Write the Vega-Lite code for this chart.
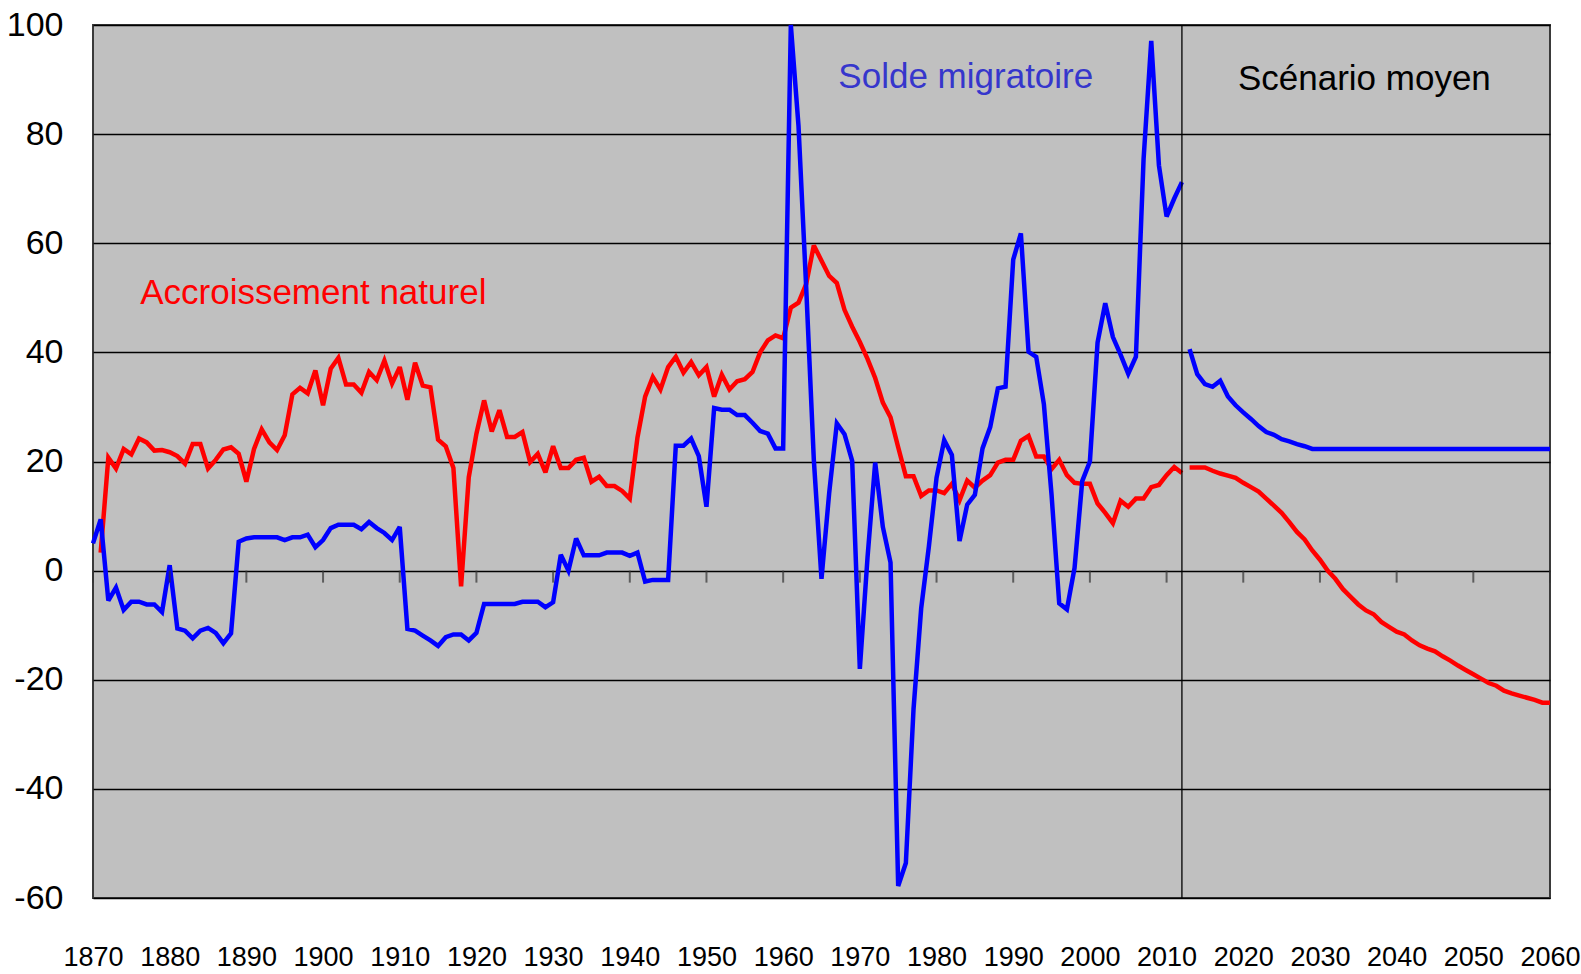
{
  "$schema": "https://vega.github.io/schema/vega-lite/v6.json",
  "width": 1457,
  "height": 873,
  "autosize": "none",
  "padding": {"left": 93, "top": 25, "right": 31, "bottom": 76},
  "background": "white",
  "config": {
    "view": {"fill": "#C0C0C0", "stroke": "#3a3a3a", "strokeWidth": 2},
    "axis": {"labelFont": "Liberation Sans, Arial, sans-serif", "labelColor": "#000000"}
  },
  "datasets": {
    "decennies": [
      {"a": 1870}, {"a": 1880}, {"a": 1890}, {"a": 1900}, {"a": 1910}, {"a": 1920}, {"a": 1930}, {"a": 1940}, {"a": 1950}, {"a": 1960},
      {"a": 1970}, {"a": 1980}, {"a": 1990}, {"a": 2000}, {"a": 2010}, {"a": 2020}, {"a": 2030}, {"a": 2040}, {"a": 2050}, {"a": 2060}
    ],
    "annotations": [
      {"t": "Accroissement naturel", "a": 1876.15, "v": 48.9, "c": "A"},
      {"t": "Solde migratoire", "a": 1967.2, "v": 88.5, "c": "M"},
      {"t": "Scénario moyen", "a": 2019.3, "v": 88.1, "c": "S"}
    ],
    "series": [
      {"s":"A","p":"h","a":1871,"v":3.3},{"s":"A","p":"h","a":1872,"v":20.7},{"s":"A","p":"h","a":1873,"v":18.7},{"s":"A","p":"h","a":1874,"v":22.3},{"s":"A","p":"h","a":1875,"v":21.3},{"s":"A","p":"h","a":1876,"v":24.2},{"s":"A","p":"h","a":1877,"v":23.5},{"s":"A","p":"h","a":1878,"v":22.0},{"s":"A","p":"h","a":1879,"v":22.1},{"s":"A","p":"h","a":1880,"v":21.7},
      {"s":"A","p":"h","a":1881,"v":21.0},{"s":"A","p":"h","a":1882,"v":19.6},{"s":"A","p":"h","a":1883,"v":23.2},{"s":"A","p":"h","a":1884,"v":23.2},{"s":"A","p":"h","a":1885,"v":18.7},{"s":"A","p":"h","a":1886,"v":20.3},{"s":"A","p":"h","a":1887,"v":22.2},{"s":"A","p":"h","a":1888,"v":22.6},{"s":"A","p":"h","a":1889,"v":21.4},{"s":"A","p":"h","a":1890,"v":16.3},
      {"s":"A","p":"h","a":1891,"v":22.3},{"s":"A","p":"h","a":1892,"v":25.9},{"s":"A","p":"h","a":1893,"v":23.5},{"s":"A","p":"h","a":1894,"v":22.1},{"s":"A","p":"h","a":1895,"v":24.8},{"s":"A","p":"h","a":1896,"v":32.3},{"s":"A","p":"h","a":1897,"v":33.5},{"s":"A","p":"h","a":1898,"v":32.5},{"s":"A","p":"h","a":1899,"v":36.7},{"s":"A","p":"h","a":1900,"v":30.3},
      {"s":"A","p":"h","a":1901,"v":37.0},{"s":"A","p":"h","a":1902,"v":39.0},{"s":"A","p":"h","a":1903,"v":34.1},{"s":"A","p":"h","a":1904,"v":34.1},{"s":"A","p":"h","a":1905,"v":32.6},{"s":"A","p":"h","a":1906,"v":36.4},{"s":"A","p":"h","a":1907,"v":34.9},{"s":"A","p":"h","a":1908,"v":38.5},{"s":"A","p":"h","a":1909,"v":34.3},{"s":"A","p":"h","a":1910,"v":37.3},
      {"s":"A","p":"h","a":1911,"v":31.3},{"s":"A","p":"h","a":1912,"v":38.1},{"s":"A","p":"h","a":1913,"v":33.9},{"s":"A","p":"h","a":1914,"v":33.6},{"s":"A","p":"h","a":1915,"v":24.0},{"s":"A","p":"h","a":1916,"v":22.8},{"s":"A","p":"h","a":1917,"v":18.8},{"s":"A","p":"h","a":1918,"v":-2.9},{"s":"A","p":"h","a":1919,"v":17.1},{"s":"A","p":"h","a":1920,"v":25.1},
      {"s":"A","p":"h","a":1921,"v":31.2},{"s":"A","p":"h","a":1922,"v":25.5},{"s":"A","p":"h","a":1923,"v":29.4},{"s":"A","p":"h","a":1924,"v":24.5},{"s":"A","p":"h","a":1925,"v":24.5},{"s":"A","p":"h","a":1926,"v":25.4},{"s":"A","p":"h","a":1927,"v":19.9},{"s":"A","p":"h","a":1928,"v":21.4},{"s":"A","p":"h","a":1929,"v":18.0},{"s":"A","p":"h","a":1930,"v":22.8},
      {"s":"A","p":"h","a":1931,"v":18.8},{"s":"A","p":"h","a":1932,"v":18.8},{"s":"A","p":"h","a":1933,"v":20.3},{"s":"A","p":"h","a":1934,"v":20.7},{"s":"A","p":"h","a":1935,"v":16.3},{"s":"A","p":"h","a":1936,"v":17.2},{"s":"A","p":"h","a":1937,"v":15.5},{"s":"A","p":"h","a":1938,"v":15.5},{"s":"A","p":"h","a":1939,"v":14.6},{"s":"A","p":"h","a":1940,"v":13.2},
      {"s":"A","p":"h","a":1941,"v":24.4},{"s":"A","p":"h","a":1942,"v":31.9},{"s":"A","p":"h","a":1943,"v":35.5},{"s":"A","p":"h","a":1944,"v":33.2},{"s":"A","p":"h","a":1945,"v":37.3},{"s":"A","p":"h","a":1946,"v":39.2},{"s":"A","p":"h","a":1947,"v":36.3},{"s":"A","p":"h","a":1948,"v":38.2},{"s":"A","p":"h","a":1949,"v":35.8},{"s":"A","p":"h","a":1950,"v":37.3},
      {"s":"A","p":"h","a":1951,"v":31.9},{"s":"A","p":"h","a":1952,"v":35.9},{"s":"A","p":"h","a":1953,"v":33.2},{"s":"A","p":"h","a":1954,"v":34.7},{"s":"A","p":"h","a":1955,"v":35.1},{"s":"A","p":"h","a":1956,"v":36.4},{"s":"A","p":"h","a":1957,"v":40.0},{"s":"A","p":"h","a":1958,"v":42.2},{"s":"A","p":"h","a":1959,"v":43.1},{"s":"A","p":"h","a":1960,"v":42.6},
      {"s":"A","p":"h","a":1961,"v":48.2},{"s":"A","p":"h","a":1962,"v":49.1},{"s":"A","p":"h","a":1963,"v":52.5},{"s":"A","p":"h","a":1964,"v":59.6},{"s":"A","p":"h","a":1965,"v":56.8},{"s":"A","p":"h","a":1966,"v":54.0},{"s":"A","p":"h","a":1967,"v":52.7},{"s":"A","p":"h","a":1968,"v":47.8},{"s":"A","p":"h","a":1969,"v":44.7},{"s":"A","p":"h","a":1970,"v":41.9},
      {"s":"A","p":"h","a":1971,"v":38.8},{"s":"A","p":"h","a":1972,"v":35.3},{"s":"A","p":"h","a":1973,"v":30.8},{"s":"A","p":"h","a":1974,"v":28.1},{"s":"A","p":"h","a":1975,"v":22.6},{"s":"A","p":"h","a":1976,"v":17.3},{"s":"A","p":"h","a":1977,"v":17.3},{"s":"A","p":"h","a":1978,"v":13.7},{"s":"A","p":"h","a":1979,"v":14.7},{"s":"A","p":"h","a":1980,"v":14.7},
      {"s":"A","p":"h","a":1981,"v":14.2},{"s":"A","p":"h","a":1982,"v":15.9},{"s":"A","p":"h","a":1983,"v":12.9},{"s":"A","p":"h","a":1984,"v":16.5},{"s":"A","p":"h","a":1985,"v":15.2},{"s":"A","p":"h","a":1986,"v":16.5},{"s":"A","p":"h","a":1987,"v":17.5},{"s":"A","p":"h","a":1988,"v":19.8},{"s":"A","p":"h","a":1989,"v":20.3},{"s":"A","p":"h","a":1990,"v":20.3},
      {"s":"A","p":"h","a":1991,"v":23.8},{"s":"A","p":"h","a":1992,"v":24.7},{"s":"A","p":"h","a":1993,"v":20.9},{"s":"A","p":"h","a":1994,"v":20.9},{"s":"A","p":"h","a":1995,"v":18.6},{"s":"A","p":"h","a":1996,"v":20.3},{"s":"A","p":"h","a":1997,"v":17.5},{"s":"A","p":"h","a":1998,"v":16.1},{"s":"A","p":"h","a":1999,"v":15.9},{"s":"A","p":"h","a":2000,"v":15.9},
      {"s":"A","p":"h","a":2001,"v":12.3},{"s":"A","p":"h","a":2002,"v":10.6},{"s":"A","p":"h","a":2003,"v":8.7},{"s":"A","p":"h","a":2004,"v":12.8},{"s":"A","p":"h","a":2005,"v":11.7},{"s":"A","p":"h","a":2006,"v":13.2},{"s":"A","p":"h","a":2007,"v":13.2},{"s":"A","p":"h","a":2008,"v":15.3},{"s":"A","p":"h","a":2009,"v":15.7},{"s":"A","p":"h","a":2010,"v":17.5},
      {"s":"A","p":"h","a":2011,"v":19.0},{"s":"A","p":"h","a":2012,"v":17.9},
      {"s":"A","p":"p","a":2013,"v":18.9},{"s":"A","p":"p","a":2014,"v":18.9},{"s":"A","p":"p","a":2015,"v":18.9},{"s":"A","p":"p","a":2016,"v":18.3},{"s":"A","p":"p","a":2017,"v":17.8},{"s":"A","p":"p","a":2018,"v":17.4},{"s":"A","p":"p","a":2019,"v":17.0},{"s":"A","p":"p","a":2020,"v":16.1},
      {"s":"A","p":"p","a":2021,"v":15.3},{"s":"A","p":"p","a":2022,"v":14.5},{"s":"A","p":"p","a":2023,"v":13.2},{"s":"A","p":"p","a":2024,"v":11.9},{"s":"A","p":"p","a":2025,"v":10.6},{"s":"A","p":"p","a":2026,"v":8.9},{"s":"A","p":"p","a":2027,"v":7.1},{"s":"A","p":"p","a":2028,"v":5.7},{"s":"A","p":"p","a":2029,"v":3.7},{"s":"A","p":"p","a":2030,"v":2.0},
      {"s":"A","p":"p","a":2031,"v":0.0},{"s":"A","p":"p","a":2032,"v":-1.5},{"s":"A","p":"p","a":2033,"v":-3.4},{"s":"A","p":"p","a":2034,"v":-4.8},{"s":"A","p":"p","a":2035,"v":-6.2},{"s":"A","p":"p","a":2036,"v":-7.3},{"s":"A","p":"p","a":2037,"v":-8.0},{"s":"A","p":"p","a":2038,"v":-9.4},{"s":"A","p":"p","a":2039,"v":-10.3},{"s":"A","p":"p","a":2040,"v":-11.2},
      {"s":"A","p":"p","a":2041,"v":-11.7},{"s":"A","p":"p","a":2042,"v":-12.8},{"s":"A","p":"p","a":2043,"v":-13.7},{"s":"A","p":"p","a":2044,"v":-14.3},{"s":"A","p":"p","a":2045,"v":-14.8},{"s":"A","p":"p","a":2046,"v":-15.7},{"s":"A","p":"p","a":2047,"v":-16.5},{"s":"A","p":"p","a":2048,"v":-17.4},{"s":"A","p":"p","a":2049,"v":-18.2},{"s":"A","p":"p","a":2050,"v":-19.0},
      {"s":"A","p":"p","a":2051,"v":-19.8},{"s":"A","p":"p","a":2052,"v":-20.6},{"s":"A","p":"p","a":2053,"v":-21.1},{"s":"A","p":"p","a":2054,"v":-22.0},{"s":"A","p":"p","a":2055,"v":-22.5},{"s":"A","p":"p","a":2056,"v":-22.9},{"s":"A","p":"p","a":2057,"v":-23.3},{"s":"A","p":"p","a":2058,"v":-23.7},{"s":"A","p":"p","a":2059,"v":-24.2},{"s":"A","p":"p","a":2060,"v":-24.2},

      {"s":"M","p":"h","a":1870,"v":5.0},{"s":"M","p":"h","a":1871,"v":9.4},{"s":"M","p":"h","a":1872,"v":-5.5},{"s":"M","p":"h","a":1873,"v":-3.1},{"s":"M","p":"h","a":1874,"v":-7.2},{"s":"M","p":"h","a":1875,"v":-5.7},{"s":"M","p":"h","a":1876,"v":-5.7},{"s":"M","p":"h","a":1877,"v":-6.2},{"s":"M","p":"h","a":1878,"v":-6.2},{"s":"M","p":"h","a":1879,"v":-7.6},{"s":"M","p":"h","a":1880,"v":1.0},
      {"s":"M","p":"h","a":1881,"v":-10.6},{"s":"M","p":"h","a":1882,"v":-11.0},{"s":"M","p":"h","a":1883,"v":-12.4},{"s":"M","p":"h","a":1884,"v":-11.0},{"s":"M","p":"h","a":1885,"v":-10.5},{"s":"M","p":"h","a":1886,"v":-11.4},{"s":"M","p":"h","a":1887,"v":-13.3},{"s":"M","p":"h","a":1888,"v":-11.5},{"s":"M","p":"h","a":1889,"v":5.3},{"s":"M","p":"h","a":1890,"v":5.9},
      {"s":"M","p":"h","a":1891,"v":6.1},{"s":"M","p":"h","a":1892,"v":6.1},{"s":"M","p":"h","a":1893,"v":6.1},{"s":"M","p":"h","a":1894,"v":6.1},{"s":"M","p":"h","a":1895,"v":5.6},{"s":"M","p":"h","a":1896,"v":6.1},{"s":"M","p":"h","a":1897,"v":6.1},{"s":"M","p":"h","a":1898,"v":6.6},{"s":"M","p":"h","a":1899,"v":4.3},{"s":"M","p":"h","a":1900,"v":5.6},
      {"s":"M","p":"h","a":1901,"v":7.8},{"s":"M","p":"h","a":1902,"v":8.4},{"s":"M","p":"h","a":1903,"v":8.4},{"s":"M","p":"h","a":1904,"v":8.4},{"s":"M","p":"h","a":1905,"v":7.6},{"s":"M","p":"h","a":1906,"v":8.9},{"s":"M","p":"h","a":1907,"v":7.8},{"s":"M","p":"h","a":1908,"v":6.9},{"s":"M","p":"h","a":1909,"v":5.6},{"s":"M","p":"h","a":1910,"v":8.0},
      {"s":"M","p":"h","a":1911,"v":-10.7},{"s":"M","p":"h","a":1912,"v":-11.0},{"s":"M","p":"h","a":1913,"v":-11.9},{"s":"M","p":"h","a":1914,"v":-12.8},{"s":"M","p":"h","a":1915,"v":-13.8},{"s":"M","p":"h","a":1916,"v":-12.2},{"s":"M","p":"h","a":1917,"v":-11.7},{"s":"M","p":"h","a":1918,"v":-11.7},{"s":"M","p":"h","a":1919,"v":-12.8},{"s":"M","p":"h","a":1920,"v":-11.4},
      {"s":"M","p":"h","a":1921,"v":-6.1},{"s":"M","p":"h","a":1922,"v":-6.1},{"s":"M","p":"h","a":1923,"v":-6.1},{"s":"M","p":"h","a":1924,"v":-6.1},{"s":"M","p":"h","a":1925,"v":-6.1},{"s":"M","p":"h","a":1926,"v":-5.7},{"s":"M","p":"h","a":1927,"v":-5.7},{"s":"M","p":"h","a":1928,"v":-5.7},{"s":"M","p":"h","a":1929,"v":-6.7},{"s":"M","p":"h","a":1930,"v":-5.8},
      {"s":"M","p":"h","a":1931,"v":2.9},{"s":"M","p":"h","a":1932,"v":0.0},{"s":"M","p":"h","a":1933,"v":5.9},{"s":"M","p":"h","a":1934,"v":2.8},{"s":"M","p":"h","a":1935,"v":2.8},{"s":"M","p":"h","a":1936,"v":2.8},{"s":"M","p":"h","a":1937,"v":3.3},{"s":"M","p":"h","a":1938,"v":3.3},{"s":"M","p":"h","a":1939,"v":3.3},{"s":"M","p":"h","a":1940,"v":2.7},
      {"s":"M","p":"h","a":1941,"v":3.3},{"s":"M","p":"h","a":1942,"v":-2.0},{"s":"M","p":"h","a":1943,"v":-1.7},{"s":"M","p":"h","a":1944,"v":-1.7},{"s":"M","p":"h","a":1945,"v":-1.7},{"s":"M","p":"h","a":1946,"v":22.9},{"s":"M","p":"h","a":1947,"v":22.9},{"s":"M","p":"h","a":1948,"v":24.2},{"s":"M","p":"h","a":1949,"v":21.0},{"s":"M","p":"h","a":1950,"v":11.7},
      {"s":"M","p":"h","a":1951,"v":29.8},{"s":"M","p":"h","a":1952,"v":29.5},{"s":"M","p":"h","a":1953,"v":29.5},{"s":"M","p":"h","a":1954,"v":28.5},{"s":"M","p":"h","a":1955,"v":28.5},{"s":"M","p":"h","a":1956,"v":27.1},{"s":"M","p":"h","a":1957,"v":25.6},{"s":"M","p":"h","a":1958,"v":25.1},{"s":"M","p":"h","a":1959,"v":22.4},{"s":"M","p":"h","a":1960,"v":22.4},
      {"s":"M","p":"h","a":1961,"v":100.0},{"s":"M","p":"h","a":1962,"v":81.5},{"s":"M","p":"h","a":1963,"v":52.0},{"s":"M","p":"h","a":1964,"v":20.3},{"s":"M","p":"h","a":1965,"v":-1.5},{"s":"M","p":"h","a":1966,"v":14.2},{"s":"M","p":"h","a":1967,"v":27.0},{"s":"M","p":"h","a":1968,"v":25.0},{"s":"M","p":"h","a":1969,"v":20.1},{"s":"M","p":"h","a":1970,"v":-18.0},
      {"s":"M","p":"h","a":1971,"v":2.4},{"s":"M","p":"h","a":1972,"v":19.8},{"s":"M","p":"h","a":1973,"v":8.0},{"s":"M","p":"h","a":1974,"v":1.5},{"s":"M","p":"h","a":1975,"v":-57.8},{"s":"M","p":"h","a":1976,"v":-53.6},{"s":"M","p":"h","a":1977,"v":-25.4},{"s":"M","p":"h","a":1978,"v":-6.9},{"s":"M","p":"h","a":1979,"v":4.4},{"s":"M","p":"h","a":1980,"v":17.0},
      {"s":"M","p":"h","a":1981,"v":23.9},{"s":"M","p":"h","a":1982,"v":21.2},{"s":"M","p":"h","a":1983,"v":5.4},{"s":"M","p":"h","a":1984,"v":12.1},{"s":"M","p":"h","a":1985,"v":13.9},{"s":"M","p":"h","a":1986,"v":22.4},{"s":"M","p":"h","a":1987,"v":26.3},{"s":"M","p":"h","a":1988,"v":33.4},{"s":"M","p":"h","a":1989,"v":33.7},{"s":"M","p":"h","a":1990,"v":57.0},
      {"s":"M","p":"h","a":1991,"v":61.8},{"s":"M","p":"h","a":1992,"v":40.1},{"s":"M","p":"h","a":1993,"v":39.2},{"s":"M","p":"h","a":1994,"v":30.5},{"s":"M","p":"h","a":1995,"v":13.9},{"s":"M","p":"h","a":1996,"v":-6.0},{"s":"M","p":"h","a":1997,"v":-7.1},{"s":"M","p":"h","a":1998,"v":0.5},{"s":"M","p":"h","a":1999,"v":16.4},{"s":"M","p":"h","a":2000,"v":20.0},
      {"s":"M","p":"h","a":2001,"v":41.8},{"s":"M","p":"h","a":2002,"v":49.0},{"s":"M","p":"h","a":2003,"v":42.8},{"s":"M","p":"h","a":2004,"v":39.6},{"s":"M","p":"h","a":2005,"v":36.1},{"s":"M","p":"h","a":2006,"v":39.2},{"s":"M","p":"h","a":2007,"v":75.4},{"s":"M","p":"h","a":2008,"v":97.1},{"s":"M","p":"h","a":2009,"v":74.3},{"s":"M","p":"h","a":2010,"v":64.9},
      {"s":"M","p":"h","a":2011,"v":68.2},{"s":"M","p":"h","a":2012,"v":71.2},
      {"s":"M","p":"p","a":2013,"v":40.6},{"s":"M","p":"p","a":2014,"v":36.0},{"s":"M","p":"p","a":2015,"v":34.2},{"s":"M","p":"p","a":2016,"v":33.7},{"s":"M","p":"p","a":2017,"v":34.8},{"s":"M","p":"p","a":2018,"v":31.9},{"s":"M","p":"p","a":2019,"v":30.3},{"s":"M","p":"p","a":2020,"v":29.0},
      {"s":"M","p":"p","a":2021,"v":27.8},{"s":"M","p":"p","a":2022,"v":26.5},{"s":"M","p":"p","a":2023,"v":25.4},{"s":"M","p":"p","a":2024,"v":24.9},{"s":"M","p":"p","a":2025,"v":24.1},{"s":"M","p":"p","a":2026,"v":23.7},{"s":"M","p":"p","a":2027,"v":23.2},{"s":"M","p":"p","a":2028,"v":22.8},{"s":"M","p":"p","a":2029,"v":22.3},{"s":"M","p":"p","a":2030,"v":22.3},
      {"s":"M","p":"p","a":2035,"v":22.3},{"s":"M","p":"p","a":2040,"v":22.3},{"s":"M","p":"p","a":2045,"v":22.3},{"s":"M","p":"p","a":2050,"v":22.3},{"s":"M","p":"p","a":2055,"v":22.3},{"s":"M","p":"p","a":2060,"v":22.3}
    ]
  },
  "layer": [
    {
      "data": {"name": "series"},
      "transform": [{"filter": "datum.s === 'A'"}],
      "mark": {"type": "line", "color": "#FF0000", "strokeWidth": 4.5, "strokeJoin": "miter", "strokeMiterLimit": 3},
      "encoding": {
        "x": {
          "field": "a", "type": "quantitative",
          "scale": {"domain": [1870, 2060], "nice": false, "zero": false},
          "axis": {
            "title": null, "orient": "bottom", "domain": false, "ticks": false, "grid": false,
            "values": [1870, 1880, 1890, 1900, 1910, 1920, 1930, 1940, 1950, 1960, 1970, 1980, 1990, 2000, 2010, 2020, 2030, 2040, 2050, 2060],
            "format": "d", "labelFontSize": 27, "labelPadding": 46, "labelFlush": false, "labelOverlap": false
          }
        },
        "y": {
          "field": "v", "type": "quantitative",
          "scale": {"domain": [-60, 100], "nice": false, "zero": false},
          "axis": {
            "title": null, "domain": false, "ticks": false, "grid": true, "gridColor": "#000000", "gridWidth": 1.3, "gridOpacity": 1,
            "values": [-60, -40, -20, 0, 20, 40, 60, 80, 100],
            "labelExpr": "datum.value < 0 ? '-' + abs(datum.value) : '' + datum.value",
            "labelFontSize": 34, "labelPadding": 30, "labelOverlap": false
          }
        },
        "detail": {"field": "p"}
      }
    },
    {
      "data": {"name": "series"},
      "transform": [{"filter": "datum.s === 'M'"}],
      "mark": {"type": "line", "color": "#0000FF", "strokeWidth": 4.5, "strokeJoin": "miter", "strokeMiterLimit": 3},
      "encoding": {
        "x": {"field": "a", "type": "quantitative"},
        "y": {"field": "v", "type": "quantitative"},
        "detail": {"field": "p"}
      }
    },
    {
      "data": {"name": "annotations"},
      "transform": [{"filter": "datum.c === 'S'"}],
      "mark": {"type": "rule", "color": "#000000", "strokeWidth": 1.3},
      "encoding": {"x": {"datum": 2012, "type": "quantitative"}}
    },
    {
      "data": {"name": "decennies"},
      "mark": {"type": "tick", "orient": "vertical", "color": "#333333", "size": 12, "thickness": 2, "yOffset": 6},
      "encoding": {"x": {"field": "a", "type": "quantitative"}, "y": {"datum": 0, "type": "quantitative"}}
    },
    {
      "data": {"name": "annotations"},
      "mark": {"type": "text", "align": "left", "baseline": "alphabetic", "font": "Liberation Sans, Arial, sans-serif", "fontSize": 35},
      "encoding": {
        "x": {"field": "a", "type": "quantitative"},
        "y": {"field": "v", "type": "quantitative"},
        "text": {"field": "t"},
        "color": {"field": "c", "type": "nominal", "scale": {"domain": ["A", "M", "S"], "range": ["#FF0000", "#3636CC", "#000000"]}, "legend": null}
      }
    }
  ]
}
